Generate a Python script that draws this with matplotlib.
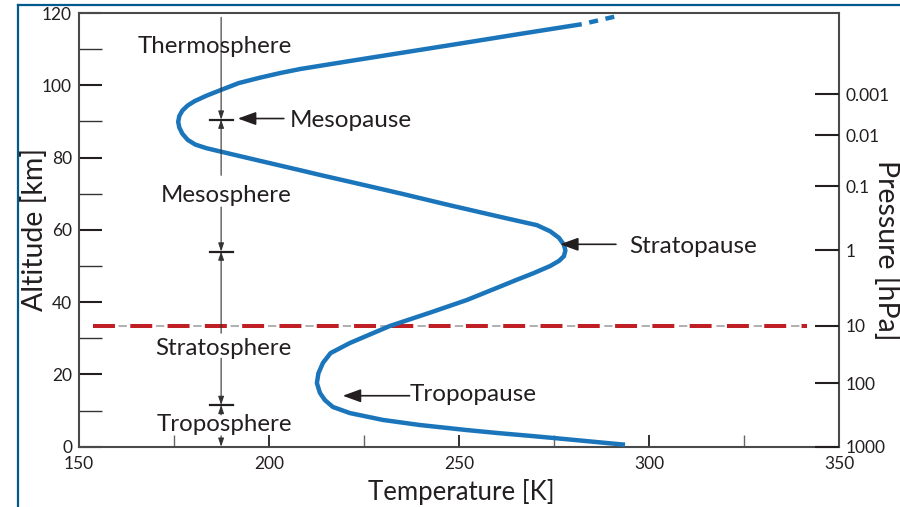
import matplotlib.pyplot as plt
from matplotlib.lines import Line2D

plt.rcParams['font.family'] = ['Lato', 'DejaVu Sans']
plt.rcParams['lines.scale_dashes'] = False

# temperature profile (ground -> top)
temp_k = [293.7, 287.1, 276.0, 268.7, 260.0, 252.1, 239.7, 230.0, 221.3, 216.8,
          214.7, 213.4, 212.6, 213.0, 214.2, 216.2, 221.3, 231.8, 242.4, 252.1,
          260.8, 265.0, 269.6, 274.0, 276.3, 277.6, 278.0, 277.6, 276.3, 274.0,
          270.5, 265.0, 260.8, 247.6, 234.5, 221.3, 213.4, 208.2, 197.6, 187.1,
          183.5, 180.6, 178.6, 177.2, 176.4, 176.1, 176.4, 177.2, 178.6, 180.4,
          183.5, 187.1, 192.0, 197.6, 203.0, 208.2, 220.0, 235.0, 250.0, 266.0,
          282.3]
alt_km = [0.55, 1.2, 2.3, 3.0, 3.8, 4.6, 6.0, 7.4, 9.3, 11.0,
          12.9, 14.9, 17.6, 20.3, 23.2, 25.9, 28.7, 33.4, 37.1, 40.6,
          44.3, 46.1, 48.0, 50.0, 51.4, 52.7, 54.3, 55.9, 57.8, 59.6,
          61.3, 62.6, 63.6, 66.8, 70.1, 73.3, 75.2, 76.5, 79.1, 81.7,
          82.6, 83.6, 84.9, 86.6, 88.3, 89.9, 91.5, 93.0, 94.4, 95.6,
          97.1, 98.6, 100.6, 102.1, 103.4, 104.5, 106.5, 109.0, 111.5, 114.2,
          116.9]
# uncertain extension at the top (dashed)
ext_temp = [282.3, 291.0]
ext_alt = [116.9, 119.0]

pressure_labels = ['0.001', '0.01', '0.1', '1', '10', '100', '1000']
pressure_alt = [97.5, 86.2, 72.1, 54.4, 33.4, 17.5, 0.0]

boundary_alt = [90.5, 54.0, 11.55]  # mesopause, stratopause, tropopause marks
line_alt = 33.4                     # 10 hPa level
layer_names = ['Thermosphere', 'Mesosphere', 'Stratosphere', 'Troposphere']
layer_alt = [108.9, 67.8, 25.4, 4.4]
pause_names = ['Mesopause', 'Stratopause', 'Tropopause']
pause_text_pos = [(205.5, 88.5), (294.7, 53.6), (237.1, 12.7)]
pause_arrow_tail = [(203.9, 90.8), (291.3, 56.0), (237.0, 14.1)]
pause_arrow_tip = [(191.8, 90.8), (276.6, 56.0), (219.4, 14.1)]

txt = '#231f20'
blue = '#1b75bb'

fig = plt.figure(figsize=(9, 5.07), dpi=100)
ax = fig.add_axes([79/900, 1-446.7/507, 760/900, 433.7/507])
ax.set_xlim(150, 350)
ax.set_ylim(0, 120)

ax.plot(temp_k, alt_km, color=blue, lw=3.2, solid_capstyle='butt',
        solid_joinstyle='round', zorder=4)
ax.plot(ext_temp, ext_alt, color=blue, lw=3.2, ls=(6.5, (6.5, 5.5)), dash_capstyle='butt', zorder=4)

# 10 hPa line
ax.plot([153.7, 342.8], [line_alt, line_alt], color='#9a9a9a', lw=1.1,
        ls=(8.5, (6.0, 20.9)), dash_capstyle='butt', zorder=3)
ax.plot([153.7, 341.5], [line_alt, line_alt], color='#bf1e24', lw=2.9,
        ls=(0, (15.8, 11.05)), dash_capstyle='butt', zorder=3)

# layer arrows along T = 187.4
xv = 187.4
small = dict(arrowstyle='-|>,head_length=0.5,head_width=0.17', color='#333333',
             lw=0.8, shrinkA=0, shrinkB=0, mutation_scale=10)
segs = [(118.8, boundary_alt[0]), (75.1, boundary_alt[0]), (66.3, boundary_alt[1]),
        (31.4, boundary_alt[1]), (24.5, boundary_alt[2]), (8.8, boundary_alt[2]), (3.0, 0.0)]
for a, b in segs:
    ax.annotate('', xy=(xv, b), xytext=(xv, a), arrowprops=small, zorder=5)
for b in boundary_alt:
    ax.plot([184.5, 190.4], [b, b], color=txt, lw=1.6, zorder=5)

for name, z in zip(layer_names, layer_alt):
    ax.text(206.0, z, name, ha='right', va='baseline', fontsize=17.3, color=txt, zorder=6)

big = dict(arrowstyle='-|>,head_length=1.1,head_width=0.4', color=txt,
           lw=1.2, shrinkA=0, shrinkB=0, mutation_scale=10)
for name, pos, tail, tip in zip(pause_names, pause_text_pos, pause_arrow_tail, pause_arrow_tip):
    ax.annotate('', xy=tip, xytext=tail, arrowprops=big, zorder=5)
    ax.text(pos[0], pos[1], name, ha='left', va='baseline', fontsize=17.5, color=txt, zorder=6)

# axes styling
for s in ax.spines.values():
    s.set_color('#4a4a4a')
    s.set_linewidth(1.5)
ax.set_xticks([150, 200, 250, 300, 350])
ax.set_xticks([175, 225, 275, 325], minor=True)
ax.set_yticks(range(0, 121, 20))
ax.set_yticks(range(10, 120, 20), minor=True)
ax.tick_params(axis='y', which='both', direction='in', length=16.3, pad=5,
               labelsize=12.5, labelcolor=txt)
ax.tick_params(axis='y', which='major', width=1.5, color='#231f20')
ax.tick_params(axis='y', which='minor', width=1.0, color='#333333')
ax.tick_params(axis='x', which='both', direction='in', length=8.6, pad=7,
               labelsize=12.5, labelcolor=txt)
ax.tick_params(axis='x', which='major', width=1.3, color='#231f20')
ax.tick_params(axis='x', which='minor', width=1.0, color='#666666')

ax2 = ax.twinx()
ax2.set_ylim(0, 120)
ax2.set_yticks(pressure_alt)
ax2.set_yticklabels(pressure_labels)
ax2.tick_params(axis='y', direction='in', length=17, width=1.5, pad=5,
                labelsize=12.5, labelcolor=txt, color='#231f20')
for s in ax2.spines.values():
    s.set_visible(False)

fig.text(461/900, 1-500/507, 'Temperature [K]', ha='center', va='baseline',
         fontsize=18.5, color=txt)
fig.text(35/900, 1-229/507, 'Altitude [km]', ha='center', va='center',
         rotation=90, fontsize=20.5, color=txt)
fig.text(887/900, 1-250/507, 'Pressure [hPa]', ha='center', va='center',
         rotation=270, fontsize=20.5, color=txt)

# page frame (left and top edges)
frame = '#005a8c'
fig.add_artist(Line2D([18/900, 18/900], [0, 1-5/507], color=frame, lw=1.6))
fig.add_artist(Line2D([18/900, 1], [1-5/507, 1-5/507], color=frame, lw=1.6))

fig.savefig('out.png', dpi=100)
